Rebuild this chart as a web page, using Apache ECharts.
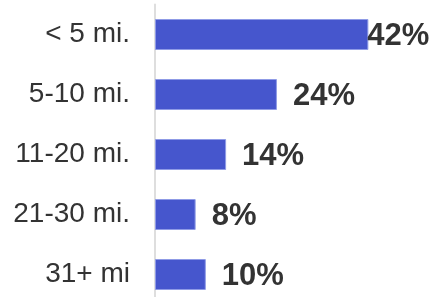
<!DOCTYPE html>
<html>
<head>
<meta charset="utf-8">
<script src="https://cdn.jsdelivr.net/npm/echarts@6/dist/echarts.min.js"></script>
<style>
  html, body { margin: 0; padding: 0; background: #fff; }
  #chart { width: 437px; height: 297px; }
</style>
</head>
<body>
<div id="chart"></div>
<script>
// distance buckets and share of trips
const categories = ['< 5 mi.', '5-10 mi.', '11-20 mi.', '21-30 mi.', '31+ mi']
const shares = [42, 24, 14, 8, 10]

const chart = echarts.init(document.getElementById('chart'))

const seriesData = shares.map((v, i) => {
  const item = { value: v }
  // first label sits flush against the bar end in the original
  if (i === 0) item.label = { distance: -1 }
  return item
})

const option = {
  animation: false,
  grid: {
    left: 155,
    top: 4.5,
    width: 254,
    height: 300,
    outerBoundsMode: 'none'
  },
  xAxis: {
    type: 'value',
    min: 0,
    max: 50,
    show: false
  },
  yAxis: {
    type: 'category',
    data: categories,
    inverse: true,
    axisLine: {
      show: true,
      lineStyle: { color: '#dedede', width: 2 }
    },
    axisTick: { show: false },
    axisLabel: {
      margin: 25,
      fontSize: 28,
      color: '#333',
      fontFamily: 'Liberation Sans, Arial, sans-serif'
    }
  },
  series: [
    {
      type: 'bar',
      data: seriesData,
      barWidth: 31,
      itemStyle: {
        color: '#4656cd',
        borderColor: '#8f9be6',
        borderWidth: 1
      },
      label: {
        show: true,
        position: 'right',
        distance: 16,
        offset: [0, 2],
        formatter: '{c}%',
        fontSize: 31,
        fontWeight: 'bold',
        color: '#333',
        fontFamily: 'Liberation Sans, Arial, sans-serif'
      }
    }
  ]
}

chart.setOption(option)
</script>
</body>
</html>
